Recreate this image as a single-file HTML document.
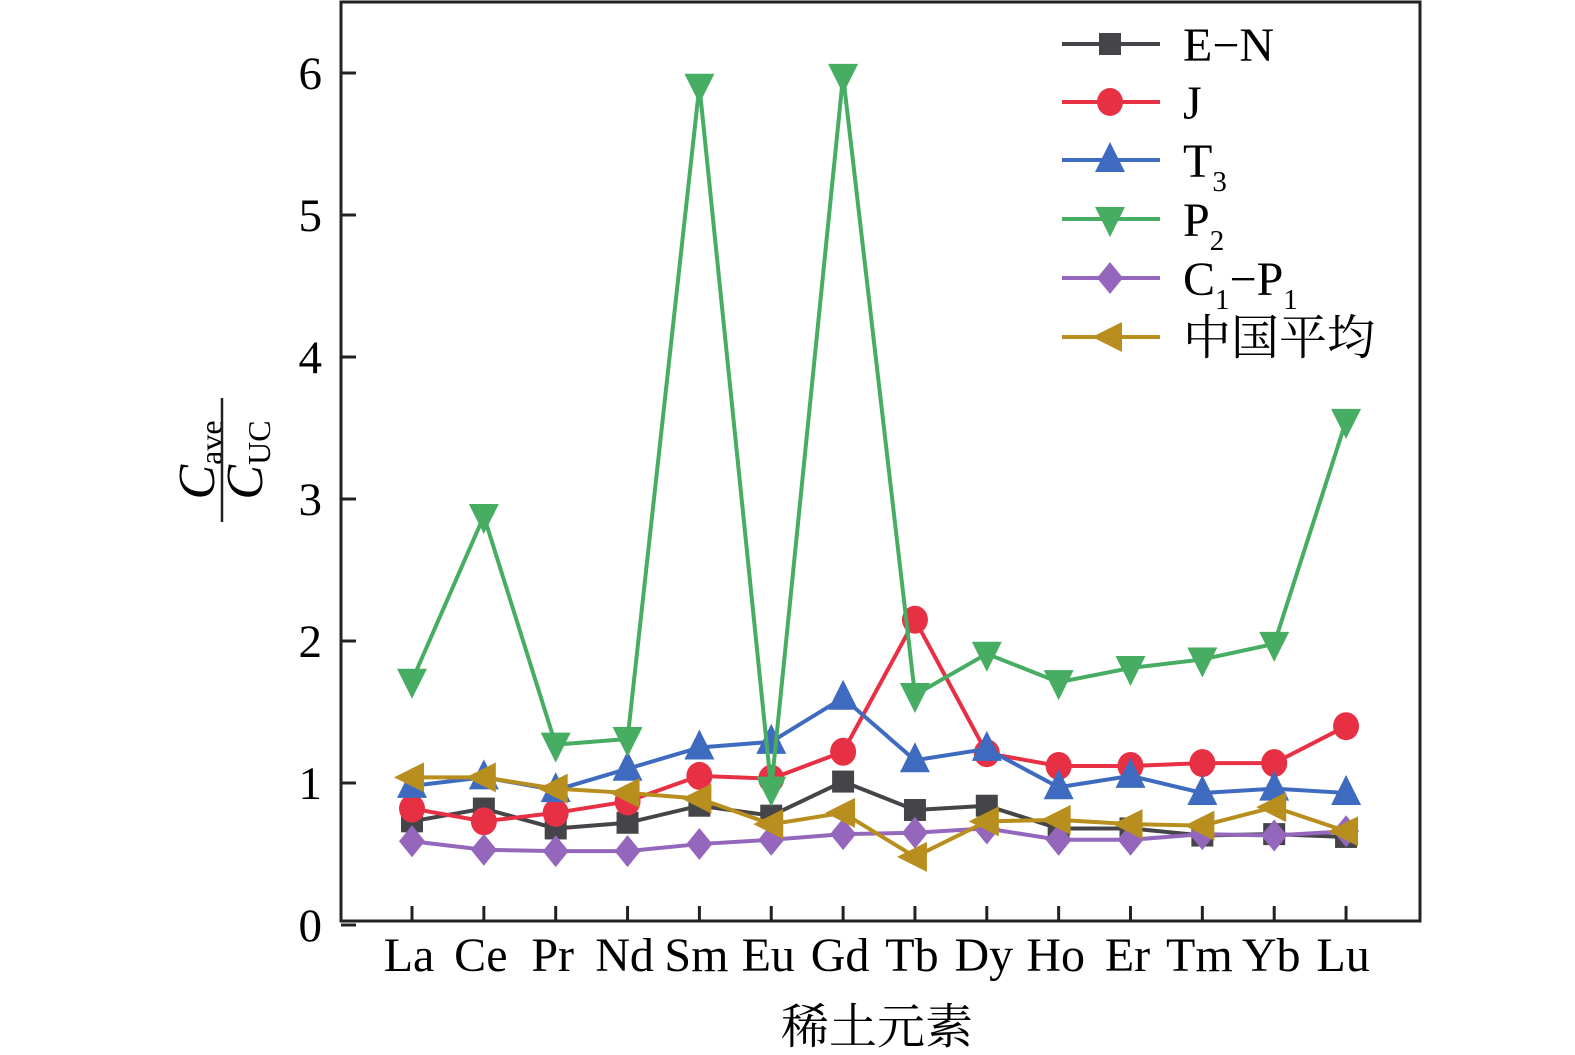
<!DOCTYPE html>
<html><head><meta charset="utf-8"><style>
html,body{margin:0;padding:0;background:#fff;}
svg{display:block;font-family:"Liberation Serif","Noto Serif CJK SC",serif;}
</style></head><body>
<svg id="chart" width="1575" height="1055" xmlns="http://www.w3.org/2000/svg">
<rect x="341" y="2" width="1079" height="919" fill="none" stroke="#222" stroke-width="3"/>
<g id="ticks"></g>
<g id="series"></g>
<g id="legend"></g>
<g transform="translate(222,460) rotate(-90)">
<text x="0" y="-8" text-anchor="middle" font-size="52" font-style="italic">C<tspan font-style="normal" font-size="32" dy="8">ave</tspan></text>
<line x1="-62" y1="0" x2="62" y2="0" stroke="#222" stroke-width="2.5"/>
<text x="0" y="40" text-anchor="middle" font-size="52" font-style="italic">C<tspan font-style="normal" font-size="32" dy="8">UC</tspan></text>
</g>
<text x="877" y="1043" text-anchor="middle" font-size="48">稀土元素</text>
</svg>
<script>
const categories=["La","Ce","Pr","Nd","Sm","Eu","Gd","Tb","Dy","Ho","Er","Tm","Yb","Lu"];
const yTicks=[0,1,2,3,4,5,6];
const seriesNames=["E−N","J","T3","P2","C1−P1","中国平均"];
const valsEN=[0.73,0.82,0.68,0.72,0.84,0.77,1.01,0.81,0.84,0.68,0.68,0.63,0.64,0.62];
const valsJ=[0.82,0.73,0.79,0.87,1.05,1.03,1.22,2.15,1.21,1.12,1.12,1.14,1.14,1.40];
const valsT3=[0.98,1.04,0.95,1.10,1.25,1.29,1.60,1.16,1.24,0.97,1.05,0.93,0.96,0.93];
const valsP2=[1.72,2.88,1.27,1.31,5.91,0.96,5.98,1.62,1.91,1.71,1.81,1.87,1.98,3.55];
const valsC1P1=[0.59,0.53,0.52,0.52,0.57,0.60,0.64,0.65,0.68,0.60,0.60,0.64,0.63,0.66];
const valsChina=[1.04,1.04,0.96,0.93,0.89,0.71,0.79,0.48,0.73,0.74,0.71,0.70,0.83,0.66];

const NS="http://www.w3.org/2000/svg";
const xScale=i=>412+i*71.85;
const yScale=v=>925-v*142;
function mk(tag,attrs,parent){const e=document.createElementNS(NS,tag);for(const k in attrs)e.setAttribute(k,attrs[k]);parent.appendChild(e);return e;}
const tg=document.getElementById('ticks');
yTicks.forEach(v=>{
  const t=mk('line',{x1:341,x2:356,y1:yScale(v),y2:yScale(v),stroke:'#222','stroke-width':3},tg);
  
  
  const l=mk('text',{x:322,y:yScale(v)+16,'text-anchor':'end','font-size':47},tg);
  l.textContent=v;
  
  
});
categories.forEach((c,i)=>{
  const t=mk('line',{x1:xScale(i),x2:xScale(i),y1:921,y2:906,stroke:'#222','stroke-width':3},tg);
  
  
  const l=mk('text',{x:xScale(i)-3,y:971,'text-anchor':'middle','font-size':48},tg);
  l.textContent=c;
  
  
});
function marker(type,x,y,color,p){
  let e;
  if(type==='square')e=mk('rect',{x:x-11,y:y-11,width:22,height:22,fill:color},p);
  else if(type==='circle')e=mk('ellipse',{cx:x,cy:y,rx:13,ry:14,fill:color},p);
  else if(type==='up')e=mk('polygon',{points:`${x},${y-18} ${x-15},${y+12} ${x+15},${y+12}`,fill:color},p);
  else if(type==='down')e=mk('polygon',{points:`${x},${y+18} ${x-15},${y-12} ${x+15},${y-12}`,fill:color},p);
  else if(type==='diamond')e=mk('polygon',{points:`${x},${y-16} ${x+13},${y} ${x},${y+16} ${x-13},${y}`,fill:color},p);
  else e=mk('polygon',{points:`${x-18},${y} ${x+12},${y-15} ${x+12},${y+15}`,fill:color},p);
  return e;
}
const seriesDefs=[[valsEN,'#454549','square'],[valsJ,'#e83044','circle'],[valsT3,'#3e6bbf','up'],[valsP2,'#47ad62','down'],[valsC1P1,'#9467bd','diamond'],[valsChina,'#b88f1f','left']];
const sg=document.getElementById('series');
[0,1,2,3,4,5].forEach(si=>{
  const [vals,color,type]=seriesDefs[si];
  const g=mk('g',{},sg);
  
  
  const pl=mk('polyline',{points:vals.map((v,i)=>xScale(i)+','+yScale(v)).join(' '),fill:'none',stroke:color,'stroke-width':4},g);
  
  
  vals.forEach((v,i)=>{
    const m=marker(type,xScale(i),yScale(v),color,g);
    
    
  });
});
const lg=document.getElementById('legend');
const labelHtml=['E−N','J','T<tspan font-size="29" dy="14">3</tspan>','P<tspan font-size="29" dy="14">2</tspan>','C<tspan font-size="29" dy="14">1</tspan><tspan dy="-14">−P</tspan><tspan font-size="29" dy="14">1</tspan>','中国平均'];
const rowsY=[44,102,160,219,278,337];
seriesDefs.forEach((d,i)=>{
  const g=mk('g',{},lg);
  
  
  mk('line',{x1:1062,x2:1160,y1:rowsY[i],y2:rowsY[i],stroke:d[1],'stroke-width':4},g);
  marker(d[2],1110,rowsY[i],d[1],g);
  const t=mk('text',{x:1183,y:rowsY[i]+17,'font-size':48},g);
  t.innerHTML=labelHtml[i];
});
</script>
</body></html>
